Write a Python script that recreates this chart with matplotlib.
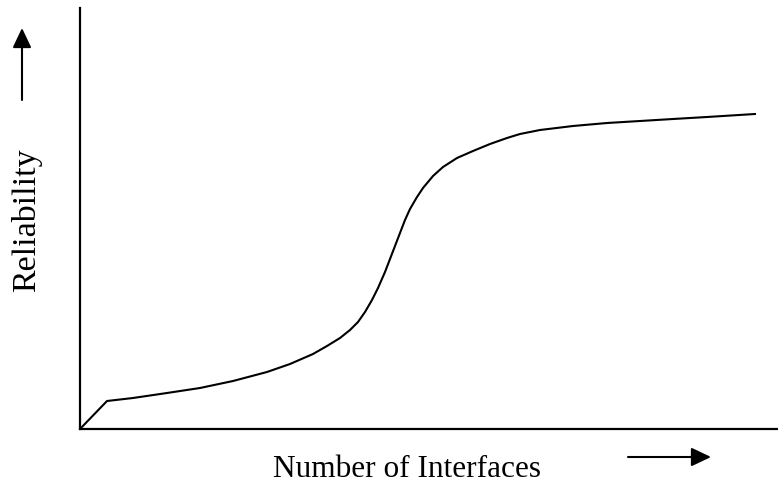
"""Reliability versus number of interfaces: a sketch curve with bare axes."""

import matplotlib
matplotlib.use("Agg")
import matplotlib.pyplot as plt

plt.rcParams['font.family'] = ['Liberation Serif', 'DejaVu Serif']

# curve (arbitrary units, origin at the axes corner)
interfaces = [0, 27, 53, 87, 120, 153, 187, 210, 233, 247, 260, 270, 278,
              285, 292, 298, 305, 310, 315, 320, 325, 330, 337, 343, 353,
              363, 377, 393, 410, 427, 440, 460, 493, 527, 560, 593, 627,
              675]
reliability = [0, 28, 31, 36, 41, 48, 57, 65, 75, 83, 91, 99, 107,
               117, 129, 141, 157, 170, 183, 196, 209, 220, 232, 241, 253,
               262, 271, 278, 285, 291, 295, 299, 303, 306, 308, 310, 312,
               315]

x_label = "Number of Interfaces"
y_label = "Reliability"

W, H, DPI = 778, 487, 100
fig = plt.figure(figsize=(W / DPI, H / DPI), dpi=DPI)

# axes placed in pixel terms: left spine at x=80, bottom spine at y=429
left, bottom, right, top = 80, 429, 777, 8
ax = fig.add_axes([left / W, (H - bottom) / H, (right - left) / W, (bottom - top) / H])
ax.set_xlim(0, right - left)
ax.set_ylim(0, bottom - top)
ax.plot(interfaces, reliability, color='black', lw=1.5,
        solid_joinstyle='round', antialiased=True)

for side in ('top', 'right'):
    ax.spines[side].set_visible(False)
for side in ('left', 'bottom'):
    ax.spines[side].set_linewidth(1.6)
ax.set_xticks([])
ax.set_yticks([])

# axis captions with their direction arrows
fig.text(407 / W, 10 / H, x_label, ha='center', va='baseline', fontsize=22.5)
fig.text(27 / W, (H - 220) / H, y_label, ha='center', va='center',
         rotation=90, fontsize=24.5)

arrow = dict(arrowstyle='-|>,head_length=0.8,head_width=0.38', color='black',
             lw=1.5, mutation_scale=15, shrinkA=0, shrinkB=0)
ax.annotate('', xy=(22, H - 28), xytext=(22, H - 100),
            xycoords='figure pixels', textcoords='figure pixels', arrowprops=arrow)
ax.annotate('', xy=(711, H - 457), xytext=(628, H - 457),
            xycoords='figure pixels', textcoords='figure pixels', arrowprops=arrow)

fig.savefig('out.png', dpi=DPI)
